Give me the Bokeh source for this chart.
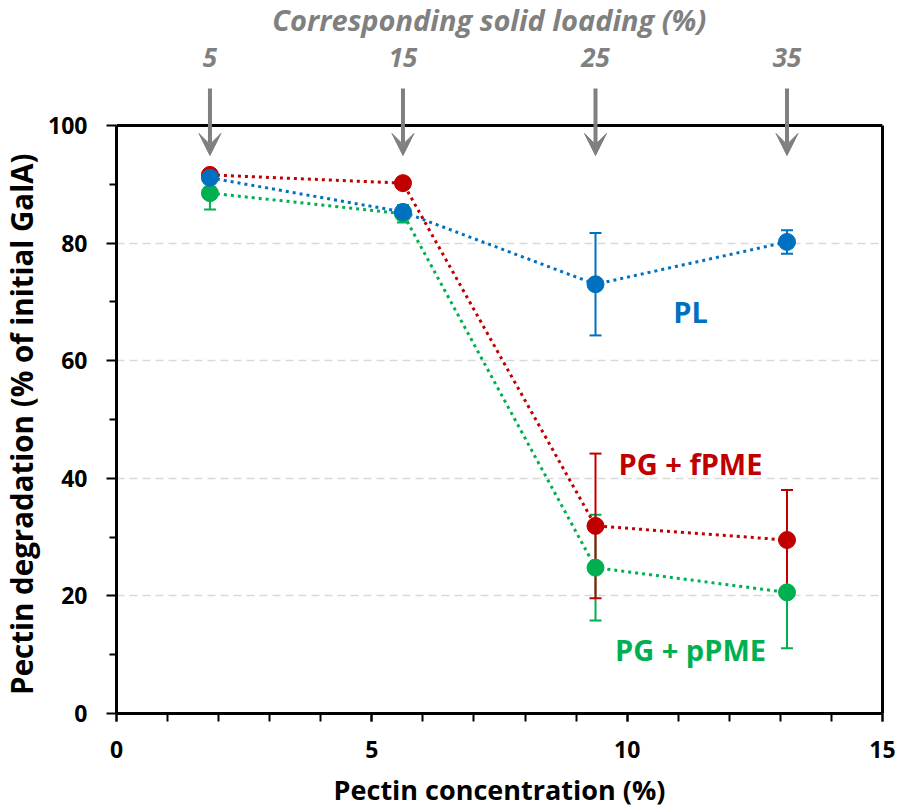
import math
from bokeh.plotting import figure
from bokeh.layouts import row
from bokeh.models import (Range1d, FixedTicker, LinearAxis, Span, Whisker, TeeHead,
                          Arrow, VeeHead, ColumnDataSource)
from bokeh.core.properties import value
from bokeh.embed import file_html
from bokeh.resources import INLINE

# ---- data ----
conc = [1.83, 5.61, 9.38, 13.13]           # pectin concentration (%)
solid_loading = ["5", "15", "25", "35"]    # corresponding solid loading (%)

pl = [91.1, 85.3, 73.0, 80.2]
pl_err = [0.8, 1.0, 8.7, 2.0]
fpme = [91.6, 90.2, 31.9, 29.5]
fpme_err = [0.5, 0.8, 12.3, 8.5]
ppme = [88.5, 85.0, 24.8, 20.6]
ppme_err = [2.8, 1.5, 9.0, 9.5]

series_names = ["PL", "PG + fPME", "PG + pPME"]
colors = {"PL": "#0070C0", "PG + fPME": "#C00000", "PG + pPME": "#00B050"}

x_title = "Pectin concentration (%)"
y_title = "Pectin degradation (% of initial GalA)"
top_title = "Corresponding solid loading (%)"

FONT = "Open Sans"
GRAY = "#808080"
H = 810
BOTTOM = 97
LW = 44

xr = Range1d(0, 15)
yr = Range1d(0, 121.26)   # frame extends above 100 to hold the top annotations

# ---- narrow panel holding the rotated y-axis title ----
lab = figure(width=LW, height=H, x_range=Range1d(0, LW), y_range=yr,
             output_backend="svg", toolbar_location=None,
             x_axis_location=None, y_axis_location=None,
             min_border_left=0, min_border_right=0, min_border_top=0, min_border_bottom=BOTTOM)
lab.outline_line_color = None
lab.grid.visible = False
lab.text(x=[21], y=[49.2], text=[y_title], angle=math.pi / 2, text_color="black",
         text_font=value(FONT), text_font_style="bold", text_font_size="29.5px",
         text_align="center", text_baseline="middle")

# ---- main plot ----
p = figure(width=898 - LW, height=H, x_range=xr, y_range=yr,
           output_backend="svg", toolbar_location=None,
           min_border_left=116 - LW, min_border_right=16, min_border_top=0,
           min_border_bottom=BOTTOM)
p.outline_line_color = None
p.background_fill_color = "white"
p.border_fill_color = "white"

p.xgrid.visible = False
p.ygrid.ticker = FixedTicker(ticks=[20, 40, 60, 80])
p.ygrid.grid_line_color = "#d9d9d9"
p.ygrid.grid_line_dash = "8 5"
p.ygrid.grid_line_width = 1.5

xa = p.xaxis[0]
xa.ticker = FixedTicker(ticks=[0, 5, 10, 15], minor_ticks=list(range(16)))
xa.axis_label = x_title
xa.major_tick_out = 8
xa.minor_tick_out = 8
xa.major_label_standoff = 19
xa.axis_label_standoff = 10
xa.axis_label_text_font_size = "27px"

ya = p.yaxis[0]
ya.ticker = FixedTicker(ticks=[0, 20, 40, 60, 80, 100], minor_ticks=[10, 30, 50, 70, 90])
ya.bounds = (0, 100)
ya.major_tick_out = 10
ya.minor_tick_out = 7
ya.major_label_standoff = 19

for ax in (xa, ya):
    ax.axis_line_width = 3
    ax.axis_line_color = "black"
    ax.major_tick_in = 0
    ax.minor_tick_in = 0
    ax.major_tick_line_width = 2
    ax.minor_tick_line_width = 2
    ax.major_tick_line_color = "black"
    ax.minor_tick_line_color = "black"
    ax.major_label_text_font = FONT
    ax.major_label_text_font_style = "bold"
    ax.major_label_text_font_size = "23px"
    ax.major_label_text_color = "black"
    ax.axis_label_text_font = FONT
    ax.axis_label_text_font_style = "bold"
    ax.axis_label_text_color = "black"

# right and top borders of the plot box
ra = LinearAxis(ticker=FixedTicker(ticks=[], minor_ticks=[]), bounds=(0, 100),
                axis_line_width=3, axis_line_color="black",
                major_tick_out=0, minor_tick_out=0, major_label_standoff=0)
p.add_layout(ra, "right")
p.add_layout(Span(location=100, dimension="width", line_color="black", line_width=3))

# error bars
data = {"PL": (pl, pl_err), "PG + fPME": (fpme, fpme_err), "PG + pPME": (ppme, ppme_err)}
for name in ["PG + pPME", "PG + fPME", "PL"]:
    vals, errs = data[name]
    src = ColumnDataSource(dict(x=conc, upper=[v + e for v, e in zip(vals, errs)],
                                lower=[v - e for v, e in zip(vals, errs)]))
    c = colors[name]
    p.add_layout(Whisker(base="x", upper="upper", lower="lower", source=src,
                         dimension="height", line_color=c, line_width=2,
                         upper_head=TeeHead(size=12, line_color=c, line_width=2),
                         lower_head=TeeHead(size=12, line_color=c, line_width=2)))

# dotted lines
for name in ["PG + fPME", "PG + pPME", "PL"]:
    vals, _ = data[name]
    p.line(conc, vals, line_color=colors[name], line_width=3, line_dash="3 4")

# markers
for name in ["PG + fPME", "PG + pPME", "PL"]:
    vals, _ = data[name]
    p.scatter(conc, vals, size=17, fill_color=colors[name], line_color=colors[name])

# series labels
lab_y = {"PL": 68.3, "PG + fPME": 42.5, "PG + pPME": 10.8}
for name in series_names:
    p.text(x=[11.24], y=[lab_y[name]], text=[name], text_color=colors[name],
           text_font=value(FONT), text_font_style="bold", text_font_size="29px",
           text_align="center", text_baseline="alphabetic")

# top "solid loading" arrows and labels
asrc = ColumnDataSource(dict(x=conc, lab=solid_loading))
p.add_layout(Arrow(x_start="x", y_start=106.3, x_end="x", y_end=94.9, source=asrc,
                   line_color=GRAY, line_width=4,
                   end=VeeHead(size=22, fill_color=GRAY, line_color=GRAY, line_width=1)))
p.text(x="x", y=111.5, text="lab", source=asrc, text_color=GRAY,
       text_font=value(FONT), text_font_style="bold italic", text_font_size="26px",
       text_align="center", text_baseline="alphabetic")
p.text(x=[7.3], y=[118.1], text=[top_title], text_color=GRAY,
       text_font=value(FONT), text_font_style="bold italic", text_font_size="29px",
       text_align="center", text_baseline="alphabetic")

layout = row(lab, p, spacing=0)
open("out.html", "w").write(file_html(layout, INLINE))
